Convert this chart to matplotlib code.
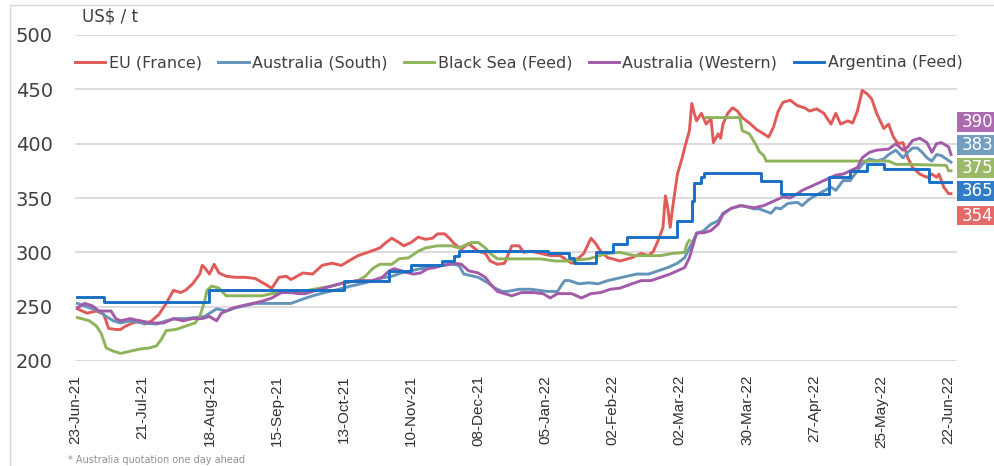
import matplotlib
matplotlib.use("Agg")
import matplotlib.pyplot as plt
from matplotlib.patches import Rectangle
import numpy as np
import pandas as pd

start_date = "2021-06-23"
tick_labels_dates = pd.date_range("2021-06-23", "2022-06-22", freq="28D")

series_names = ["EU (France)", "Australia (South)", "Black Sea (Feed)",
                "Australia (Western)", "Argentina (Feed)"]
series_colors = ["#E05A58", "#6494BA", "#8FB35A", "#A35AA8", "#1A6EC4"]

# days since 23-Jun-21, values US$/t
eu_days = [1, 5, 9, 12, 14, 17, 19, 21, 24, 27, 29, 32, 35, 38, 41, 44, 46, 49, 52, 53, 54, 56, 58, 60,
           63, 67, 71, 75, 79, 82, 85, 88, 90, 95, 99, 103, 107, 111, 114, 118, 122, 127, 129, 132,
           135, 137, 140, 143, 146, 149, 151, 154, 156, 158, 161, 164, 168, 171, 173, 176, 179, 182,
           185, 187, 190, 194, 198, 202, 207, 210, 212, 215, 217, 219, 222, 224, 227, 232, 236, 239,
           241, 243, 245, 246, 247, 248, 249, 251, 253, 254, 256, 257, 258, 259, 261, 263, 265, 266,
           268, 269, 270, 272, 274, 276, 278, 281, 284, 287, 289, 291, 293, 295, 298, 301, 304, 306,
           309, 312, 315, 317, 319, 322, 324, 326, 328, 330, 332, 334, 337, 339, 341, 343, 345, 347,
           349, 352, 355, 357, 359, 360, 362, 364, 365]
eu_vals = [248, 244, 246, 243, 230, 229, 229, 232, 235, 237, 234, 237, 243, 253, 265, 263, 265, 271, 280,
           288, 286, 280, 289, 281, 278, 277, 277, 276, 271, 267, 277, 278, 275, 281, 280, 288, 290,
           288, 292, 297, 300, 304, 308, 313, 309, 306, 309, 314, 312, 313, 317, 317, 313, 308, 303,
           308, 301, 299, 292, 289, 290, 306, 306, 300, 301, 299, 297, 297, 290, 295, 299, 313, 308,
           301, 295, 294, 292, 295, 299, 297, 301, 311, 323, 352, 341, 323, 341, 372, 387, 396, 412,
           437, 428, 421, 428, 418, 423, 401, 409, 405, 418, 428, 433, 430, 424, 419, 413, 409, 406,
           415, 430, 438, 440, 435, 433, 430, 432, 428, 418, 428, 418, 421, 419, 430, 449, 446, 441,
           428, 414, 418, 406, 400, 401, 387, 378, 372, 369, 372, 369, 372, 360, 354, 354]

aus_s_days = [1, 6, 10, 13, 16, 19, 23, 28, 34, 38, 42, 46, 50, 54, 59, 63, 67, 71, 75, 79, 83, 88, 90,
              95, 99, 104, 110, 115, 121, 127, 132, 136, 140, 144, 149, 153, 157, 160, 162, 168, 172,
              175, 178, 180, 185, 190, 197, 201, 204, 206, 210, 214, 218, 222, 226, 230, 234, 239,
              243, 247, 251, 254, 256, 259, 262, 265, 268, 270, 274, 278, 283, 285, 290, 292, 294,
              297, 301, 303, 306, 310, 315, 317, 320, 323, 326, 328, 331, 334, 337, 339, 342, 345,
              347, 349, 351, 353, 355, 357, 359, 361, 363, 365]
aus_s_vals = [253, 249, 246, 241, 237, 235, 237, 235, 234, 237, 239, 239, 240, 241, 248, 246, 249, 251,
              253, 253, 253, 253, 253, 257, 260, 263, 266, 269, 272, 276, 278, 281, 283, 285, 286, 288,
              289, 288, 280, 277, 272, 267, 264, 264, 266, 266, 264, 264, 274, 274, 271, 272, 271, 274,
              276, 278, 280, 280, 283, 286, 290, 295, 304, 317, 320, 326, 329, 336, 341, 343, 340, 340,
              336, 341, 340, 345, 346, 343, 349, 354, 360, 357, 366, 366, 375, 381, 386, 384, 386, 390,
              394, 387, 392, 396, 396, 392, 387, 384, 390, 389, 386, 383]

# Black Sea: the NaN marks the gap in quotations in early March 2022
bsea_days = [1, 6, 9, 11, 13, 16, 19, 23, 27, 31, 34, 36, 38, 42, 46, 50, 52, 54, 55, 57, 60, 63, 67,
             78, 82, 86, 92, 102, 107, 112, 118, 121, 124, 127, 132, 135, 139, 143, 146, 151, 157, 160,
             162, 165, 168, 171, 173, 176, 180, 190, 194, 200, 205, 214, 222, 227, 233, 244, 249, 254,
             255, 256, 259, 263, 277, 278, 281, 284, 285, 287, 288, 294, 339, 342, 346, 363, 364, 365]
bsea_vals = [240, 237, 232, 225, 212, 209, 207, 209, 211, 212, 214, 220, 228, 229, 232, 235, 241, 255,
             265, 269, 267, 260, 260, 260, 262, 263, 263, 267, 269, 272, 274, 278, 285, 289, 289, 294,
             295, 301, 304, 306, 306, 304, 306, 309, 309, 304, 299, 294, 294, 294, 294, 292, 292, 294,
             299, 300, 297, 297, 299, 300, 308, 311, np.nan, 424, 424, 412, 409, 398, 393, 389, 384,
             384, 384, 381, 381, 380, 375, 375]

aus_w_days = [1, 4, 7, 10, 15, 17, 19, 23, 27, 32, 37, 41, 45, 49, 53, 56, 59, 61, 66, 70, 74, 78, 82,
              86, 90, 93, 96, 102, 107, 112, 118, 124, 128, 131, 133, 136, 139, 141, 144, 147, 150,
              153, 156, 158, 161, 164, 168, 171, 173, 176, 179, 182, 186, 191, 195, 198, 201, 207, 211,
              215, 219, 223, 227, 232, 236, 240, 244, 248, 251, 254, 256, 259, 262, 265, 268, 270, 273,
              277, 283, 287, 290, 293, 295, 298, 301, 303, 306, 309, 312, 315, 317, 320, 323, 326, 328,
              331, 334, 339, 342, 345, 347, 349, 352, 355, 357, 359, 361, 364, 365]
aus_w_vals = [249, 253, 251, 246, 246, 239, 237, 239, 237, 235, 235, 239, 237, 239, 239, 241, 237, 244,
              249, 251, 253, 255, 258, 263, 263, 262, 262, 266, 269, 272, 274, 274, 277, 283, 285, 283,
              281, 280, 281, 285, 286, 288, 289, 290, 289, 283, 281, 277, 271, 264, 262, 260, 263, 263,
              262, 258, 262, 262, 258, 262, 263, 266, 267, 271, 274, 274, 277, 280, 283, 286, 295, 318,
              318, 320, 326, 335, 340, 343, 341, 343, 346, 349, 351, 350, 354, 357, 360, 363, 366, 369,
              371, 372, 375, 378, 387, 392, 394, 395, 400, 394, 397, 403, 405, 401, 392, 400, 401, 397,
              390]

arg_days = [1, 12, 56, 112, 131, 140, 153, 158, 160, 197, 206, 208, 217, 224, 230, 251, 257, 258, 261,
            262, 286, 294, 314, 323, 330, 337, 356, 365]
arg_vals = [259, 254, 265, 274, 283, 288, 292, 297, 301, 299, 295, 290, 300, 308, 314, 329, 347, 364,
            369, 373, 366, 354, 369, 375, 381, 377, 365, 365]

end_labels = [390, 383, 375, 365, 354]
end_label_order = [3, 1, 2, 4, 0]   # index into series list, top to bottom

y_ticks = [200, 250, 300, 350, 400, 450, 500]

W, H = 995, 466
fig = plt.figure(figsize=(W / 100, H / 100), dpi=100)
ax = fig.add_axes([75 / W, (H - 361) / H, (957 - 75) / W, (361 - 35) / H])

t0 = pd.Timestamp(start_date)


def to_dates(days):
    return t0 + pd.to_timedelta(days, unit="D")


all_days = [eu_days, aus_s_days, bsea_days, aus_w_days, arg_days]
all_vals = [eu_vals, aus_s_vals, bsea_vals, aus_w_vals, arg_vals]

lines = []
for i, (dd, vv) in enumerate(zip(all_days, all_vals)):
    kw = {}
    if i == 4:
        kw["drawstyle"] = "steps-post"
    ln, = ax.plot(to_dates(dd), vv, color=series_colors[i], lw=2.1, label=series_names[i],
                  solid_joinstyle="round", **kw)
    lines.append(ln)

ax.set_ylim(200, 500)
ax.set_xlim(t0 + pd.Timedelta(days=0.6), t0 + pd.Timedelta(days=367.5))
ax.set_yticks(y_ticks)
ax.yaxis.grid(True, color="#D9D9D9", lw=1.3)
ax.set_axisbelow(True)
for s in ax.spines.values():
    s.set_visible(False)
ax.tick_params(axis="both", length=0)
ax.tick_params(axis="y", pad=16, labelsize=14, labelcolor="#404040")

ax.set_xticks(tick_labels_dates)
ax.set_xticklabels([d.strftime("%d-%b-%y") for d in tick_labels_dates], rotation=90,
                   family=["Liberation Sans Narrow", "Liberation Sans", "DejaVu Sans"],
                   fontsize=11, color="#303030")
ax.tick_params(axis="x", pad=10)

leg = ax.legend(handles=lines, loc="center left", bbox_to_anchor=(0, 0.915), ncol=5,
                frameon=False, fontsize=11.5, handlelength=1.9, handletextpad=0.2,
                columnspacing=1.05, borderpad=0, borderaxespad=0)
for t in leg.get_texts():
    t.set_color("#404040")

fig.text(82 / W, (H - 17) / H, "US$ / t", fontsize=12, color="#404040", va="center", ha="left")
fig.text(68 / W, (H - 460) / H, "* Australia quotation one day ahead", fontsize=7,
         color="#909090", va="center", ha="left")

box_centers = [122, 145, 168, 191, 216]
for val, idx, yc in zip(end_labels, end_label_order, box_centers):
    fig.patches.append(Rectangle((957 / W, (H - yc - 9.5) / H), 60 / W, 19 / H,
                                 transform=fig.transFigure, facecolor=series_colors[idx],
                                 edgecolor="none", alpha=0.9))
    fig.text(962 / W, (H - yc) / H, str(val), fontsize=12, color="white", va="center",
             ha="left")

fig.patches.append(Rectangle((10 / W, -0.05), 1.2, (H - 5) / H + 0.05, transform=fig.transFigure,
                             fill=False, edgecolor="#D8D8D8", lw=1))

fig.savefig("out.png", dpi=100)
